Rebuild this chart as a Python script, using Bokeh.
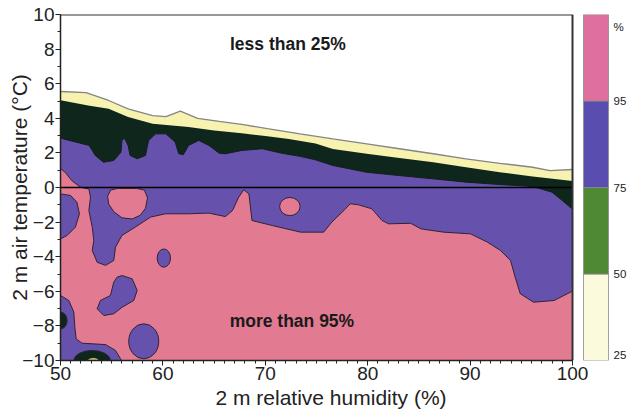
from bokeh.plotting import figure
from bokeh.models import Range1d, FixedTicker, Title
from bokeh.core.properties import value
from bokeh.embed import file_html
from bokeh.resources import INLINE

FONT = "Liberation Sans"

# ---------------- axes ----------------
XMIN, XMAX, YMIN, YMAX = 50, 100, -10, 10
x_ticks = [50, 60, 70, 80, 90, 100]
x_minor = list(range(50, 101))
y_ticks = [-10, -8, -6, -4, -2, 0, 2, 4, 6, 8, 10]
y_minor = list(range(-10, 11))
x_label = "2 m relative humidity (%)"
y_label = "2 m air temperature (°C)"

# ---------------- contour boundaries (RH %, T °C) ----------------
yellow_top_rh = [50, 52.5, 54.7, 56.6, 59.0, 60.3, 61.7, 63.4, 65.5, 67.7, 70.2, 73.4,
                 76.6, 79.9, 83.1, 86.4, 89.6, 92.9, 96.1, 97.8, 100]
yellow_top_t = [5.55, 5.48, 5.03, 4.55, 4.16, 4.1, 4.42, 4.0, 3.82, 3.65, 3.4, 3.1,
                2.81, 2.52, 2.24, 1.95, 1.66, 1.4, 1.17, 0.98, 1.04]

green_top_rh = [50, 52.7, 54.7, 56.6, 59.0, 62.5, 65.0, 67.7, 70.0, 72.3, 74.9, 76.6,
                79.9, 83.1, 86.4, 89.6, 92.9, 96.1, 100]
green_top_t = [5.05, 4.74, 4.55, 4.07, 3.68, 3.49, 3.3, 3.14, 2.97, 2.81, 2.55, 2.23,
               1.95, 1.71, 1.46, 1.17, 0.88, 0.64, 0.38]

purple_top_rh = [50, 52.8, 53.4, 54.2, 55.2, 55.9, 56.0, 56.25, 56.6, 56.8, 57.5, 58.3,
                 58.6, 59.3, 60.3, 61.2, 61.55, 62.0, 62.5, 63.5, 64.5, 65.5, 66.1,
                 67.7, 69.7, 71.6, 73.4, 74.9, 76.6, 79.9, 83.1, 86.4, 89.6, 92.9,
                 96.1, 98.0, 99.0, 100]
purple_top_t = [2.85, 2.43, 1.85, 1.46, 1.56, 2.04, 2.72, 2.85, 2.43, 1.85, 1.66, 1.85,
                2.72, 3.1, 3.1, 2.62, 1.95, 1.9, 2.43, 2.72, 2.43, 1.98, 1.95,
                2.14, 2.24, 1.98, 1.8, 1.6, 1.27, 0.88, 0.69, 0.5, 0.31, 0.17,
                0.06, -0.27, -0.75, -1.25]

pink_main_rh = [50, 50.5, 51.1, 51.95, 52.4, 52.77, 52.93, 52.77, 53.1, 53.25, 53.1,
                53.58, 54.4, 55.2, 55.37, 56.0, 57.3, 58.8, 60.25, 62.5, 64.5, 66.1,
                66.8, 67.4, 67.9, 68.4, 68.7, 70.7, 73.44, 75.7, 76.5, 77.67, 78.3,
                79.1, 80.4, 81.4, 82.06, 84.2, 85.2, 87.4, 90.04, 91.7, 92.97, 93.95,
                94.4, 94.9, 96.2, 98.2, 99.8, 100, 100, 50]
pink_main_t = [1.1, 0.85, 0.4, 0.02, -0.05, -0.08, -0.56, -1.33, -2.29, -3.06, -3.64,
               -4.32, -4.5, -4.22, -3.45, -2.77, -2.29, -1.71, -1.52, -1.52, -1.48, -1.68,
               -1.33, -0.56, -0.13, -0.37, -1.91, -2.2, -2.58, -2.58, -2.0, -1.33, -0.94,
               -1.0, -1.23, -1.91, -2.1, -2.07, -2.39, -2.58, -2.68, -3.16, -3.64, -4.22,
               -5.18, -6.14, -6.63, -6.53, -6.05, -6.0, -10, -10]

purple_left_rh = [50, 50.98, 51.6, 51.85, 51.46, 50.65, 50]
purple_left_t = [-0.37, -0.46, -0.85, -1.52, -2.29, -2.77, -2.97]

purple_peanut_rh = [56.02, 57.0, 57.49, 57.16, 56.02, 55.2, 54.23, 53.58, 53.9, 54.88,
                    55.2, 55.53]
purple_peanut_t = [-5.09, -5.28, -5.95, -6.53, -6.92, -7.3, -7.4, -7.01, -6.53, -6.24,
                   -5.47, -5.18]

purple_corner_rh = [50, 50.81, 51.3, 51.4, 51.53, 52.1, 54.4, 55.37, 55.86, 55.95, 50]
purple_corner_t = [-6.24, -6.53, -7.2, -8.07, -8.75, -9.0, -9.08, -9.42, -9.9, -10, -10]

purple_blob_rh = [60.09, 58.13]
purple_blob_t = [-4.08, -8.89]
purple_blob_w = [1.3, 2.93]
purple_blob_h = [1.05, 2.02]

pink_blob_rh = [54.6, 54.9, 55.6, 57.4, 58.2, 58.5, 58.3, 57.8, 57.0, 56.0, 55.2, 54.7]
pink_blob_t = [-0.5, -0.15, -0.05, -0.05, -0.15, -0.6, -1.2, -1.6, -1.82, -1.75, -1.4,
               -0.95]
pink_oval_rh = [72.4]
pink_oval_t = [-1.1]
pink_oval_w = [2.0]
pink_oval_h = [1.05]

green_blob_rh = [50.0, 53.09]
green_blob_t = [-7.69, -10.0]
green_blob_w = [1.3, 3.58]
green_blob_h = [0.97, 1.16]

yellow_blob_rh = [53.2]
yellow_blob_t = [-10.0]
yellow_blob_w = [1.0]
yellow_blob_h = [0.3]

notes = ["less than 25%", "more than 95%"]
notes_rh = [72.2, 72.6]
notes_t = [8.3, -7.7]

cb_labels = ["25", "50", "75", "95"]
cb_top_label = "%"
cb_colors = ["#fbfadc", "#4f8934", "#5a4db0", "#df6f9d"]

# ---------------- styling ----------------
PINK = "#e27a92"
PURPLE = "#6652ac"
DARK = "#0f261c"
YELLOW = "#f8f2b0"
EDGE = "#2e2436"

FRAME_W, FRAME_H = 568, 346
PX = 512 / (XMAX - XMIN)
PY = FRAME_H / (YMAX - YMIN)
X_END = XMIN + FRAME_W / PX

p = figure(frame_width=FRAME_W, frame_height=FRAME_H,
           x_range=Range1d(XMIN, X_END), y_range=Range1d(YMIN, YMAX),
           output_backend="svg", toolbar_location=None,
           min_border_left=60, min_border_right=0, min_border_top=14,
           min_border_bottom=4)
p.outline_line_color = None
p.grid.visible = False
p.background_fill_color = "white"

p.varea(x=yellow_top_rh, y1=YMIN, y2=yellow_top_t, fill_color=YELLOW)
p.line(yellow_top_rh, yellow_top_t, line_color="#858585", line_width=1.3)
p.varea(x=green_top_rh, y1=YMIN, y2=green_top_t, fill_color=DARK)
p.varea(x=purple_top_rh, y1=YMIN, y2=purple_top_t, fill_color=PURPLE)
p.line(purple_top_rh, purple_top_t, line_color="#14201a", line_width=1)

p.patch(pink_main_rh, pink_main_t, fill_color=PINK, line_color=EDGE, line_width=1)
p.patch(purple_left_rh, purple_left_t, fill_color=PURPLE, line_color=EDGE, line_width=1)
p.patch(pink_blob_rh, pink_blob_t, fill_color=PINK, line_color=EDGE, line_width=1)
p.ellipse(x=pink_oval_rh, y=pink_oval_t, width=pink_oval_w, height=pink_oval_h,
          fill_color=PINK, line_color=EDGE, line_width=1)
p.patch(purple_peanut_rh, purple_peanut_t, fill_color=PURPLE, line_color=EDGE, line_width=1)
p.patch(purple_corner_rh, purple_corner_t, fill_color=PURPLE, line_color=EDGE, line_width=1)
p.ellipse(x=purple_blob_rh, y=purple_blob_t, width=purple_blob_w, height=purple_blob_h,
          fill_color=PURPLE, line_color=EDGE, line_width=1)
p.ellipse(x=green_blob_rh, y=green_blob_t, width=green_blob_w, height=green_blob_h,
          fill_color=DARK, line_color=EDGE, line_width=1)
p.ellipse(x=yellow_blob_rh, y=yellow_blob_t, width=yellow_blob_w, height=yellow_blob_h,
          fill_color="#c8c070", line_color=None)

p.segment(x0=[XMIN], y0=[0], x1=[XMAX], y1=[0], line_color="black", line_width=1.6)
p.segment(x0=[XMIN, XMAX], y0=[YMAX, YMIN], x1=[XMAX, XMAX], y1=[YMAX, YMAX],
          line_color="#333333", line_width=2)

p.text(x=notes_rh, y=notes_t, text=notes, text_font=value(FONT), text_font_style="bold",
       text_font_size="17.5px", text_align="center", text_baseline="middle",
       text_color="#1a1a1a")

cb_left = XMAX + 11 / PX
cb_right = XMAX + 36 / PX
n = len(cb_labels)
step = (YMAX - YMIN) / n
cb_bottom = [YMIN + i * step for i in range(n)]
cb_top = [YMIN + (i + 1) * step for i in range(n)]
p.quad(left=cb_left, right=cb_right, bottom=cb_bottom, top=cb_top,
       fill_color=cb_colors, line_color="#8a8a8a", line_width=0.8)
lab_x = cb_right + 5 / PX
# keep the lowest label fully inside the drawing area
lab_y = [cb_bottom[0] + 6 / PY] + cb_bottom[1:] + [YMAX - 0.75]
p.text(x=[lab_x] * (n + 1), y=lab_y,
       text=cb_labels + [cb_top_label], text_font=value(FONT), text_font_size="11.5px",
       text_align="left", text_baseline="middle", text_color="#222222")

ax = p.xaxis[0]
ax.bounds = (XMIN, XMAX)
ax.ticker = FixedTicker(ticks=x_ticks, minor_ticks=x_minor)
ay = p.yaxis[0]
ay.ticker = FixedTicker(ticks=y_ticks, minor_ticks=y_minor)
for a in (ax, ay):
    a.major_label_text_font = FONT
    a.major_label_text_font_size = "19px"
    a.major_label_text_color = "#222222"
    a.axis_line_color = "#222222"
    a.axis_line_width = 1.5
    a.major_tick_line_color = "#222222"
    a.minor_tick_line_color = "#222222"
    a.major_tick_in = 0
    a.major_tick_out = 5
    a.minor_tick_in = 0
    a.minor_tick_out = 3
    a.major_label_standoff = 1
ay.axis_label = y_label
ay.axis_label_text_font = FONT
ay.axis_label_text_font_size = "21px"
ay.axis_label_text_font_style = "normal"
ay.axis_label_text_color = "#222222"
ay.axis_label_standoff = -12

t = Title(text=x_label, align="left", offset=155, text_font=FONT,
          text_font_size="21px", text_font_style="normal", text_color="#222222",
          standoff=3)
p.add_layout(t, "below")

open("out.html", "w").write(file_html(p, INLINE))
